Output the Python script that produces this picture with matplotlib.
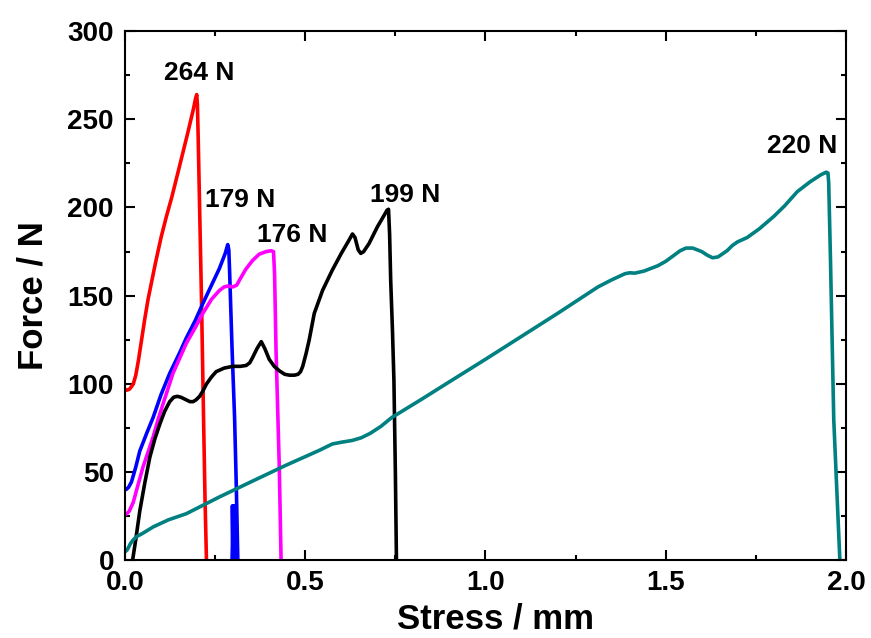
import matplotlib
matplotlib.use("Agg")
import matplotlib.pyplot as plt
from matplotlib.ticker import MultipleLocator

# --- données ---
red_x = [0.0, 0.005, 0.012, 0.018, 0.023, 0.03, 0.037, 0.046, 0.055, 0.064, 0.074, 0.085,
         0.1, 0.115, 0.13, 0.152, 0.175, 0.19, 0.196, 0.199, 0.201, 0.203, 0.207, 0.212,
         0.218, 0.222, 0.226]
red_y = [97, 96.5, 97, 98.5, 100, 105, 113, 125, 137, 148, 158, 169,
         183, 195, 206, 224, 243, 256, 262, 264, 258, 240, 200, 150,
         80, 35, 0]

blue_x = [0.0, 0.005, 0.01, 0.018, 0.03, 0.041, 0.06, 0.078, 0.1, 0.124, 0.15, 0.17, 0.195,
          0.216, 0.24, 0.262, 0.278, 0.285, 0.288, 0.29, 0.297, 0.304, 0.309, 0.313, 0.3,
          0.298, 0.298, 0.302, 0.303]
blue_y = [40, 40.5, 41.5, 44.5, 53, 62, 72, 81, 94, 106, 117, 126, 136,
          145.6, 156, 165.5, 174, 179, 176, 165, 120, 81, 40, 0, 0,
          31, 0, 31, 0]

mag_x = [0.0, 0.005, 0.012, 0.023, 0.035, 0.05, 0.065, 0.078, 0.092, 0.106, 0.133, 0.17,
         0.195, 0.216, 0.24, 0.262, 0.275, 0.285, 0.299, 0.31, 0.318, 0.335, 0.354, 0.372,
         0.391, 0.405, 0.412, 0.415, 0.419, 0.428, 0.433]
mag_y = [26, 26.5, 28, 33, 42, 53, 62, 70, 80, 89, 106, 123,
         132, 140, 148, 153, 155, 155.5, 155, 156, 159, 165, 170, 173.5,
         175, 175.5, 175, 162, 119, 53, 0]

blk_x = [0.021, 0.03, 0.041, 0.055, 0.069, 0.083, 0.097, 0.11, 0.124, 0.135, 0.145, 0.155,
         0.17, 0.18, 0.189, 0.197, 0.207, 0.216, 0.226, 0.24, 0.253, 0.275, 0.299, 0.32,
         0.336, 0.346, 0.354, 0.366, 0.378, 0.388, 0.4, 0.414, 0.428, 0.443, 0.456, 0.47,
         0.48, 0.487, 0.493, 0.502, 0.511, 0.525, 0.548, 0.575, 0.6, 0.62, 0.631, 0.638,
         0.647, 0.654, 0.662, 0.677, 0.7, 0.72, 0.727, 0.731, 0.734, 0.737, 0.742, 0.746,
         0.75, 0.753]
blk_y = [0, 12, 28, 44, 58.6, 69, 77.5, 84.5, 90, 92.5, 93, 92.5,
         91, 90, 90, 91, 93, 96, 100, 104, 107, 109, 110, 110,
         110.5, 112, 115, 120, 124, 120, 114, 110, 107.5, 105.5, 105, 105,
         105.5, 107, 110, 117, 125, 140, 153, 164.5, 174, 181, 185, 183,
         176, 174, 175, 179.6, 189, 196, 198.5, 199, 185, 159, 130, 102,
         50, 0]

teal_x = [0.0, 0.005, 0.01, 0.015, 0.022, 0.032, 0.05, 0.078, 0.12, 0.17, 0.262, 0.354,
          0.447, 0.539, 0.56, 0.575, 0.6, 0.63, 0.655, 0.68, 0.71, 0.74, 0.82, 0.898, 1.0,
          1.1, 1.2, 1.312, 1.35, 1.387, 1.4, 1.414, 1.44, 1.478, 1.5, 1.52, 1.54, 1.556,
          1.575, 1.6, 1.615, 1.63, 1.645, 1.67, 1.685, 1.699, 1.726, 1.76, 1.8, 1.83,
          1.865, 1.9, 1.93, 1.945, 1.95, 1.952, 1.957, 1.966, 1.983]
teal_y = [5, 5.7, 7.5, 9.5, 11.5, 13.5, 15.5, 19, 23, 26.5, 36, 45,
          54, 62.4, 64.5, 66, 67, 68, 69.5, 72, 76, 81, 91, 101, 114,
          127, 140, 155, 159, 162.5, 163, 162.8, 164, 167, 169.5, 172.5, 175.5, 177,
          177, 175, 173, 171.5, 172, 175.5, 178.5, 180.5, 183, 188, 195, 201,
          209, 214.5, 218.5, 220, 219.5, 214, 170, 80, 0]

peak_labels = ["264 N", "179 N", "176 N", "199 N", "220 N"]
peak_x = [0.205, 0.319, 0.463, 0.778, 1.879]
peak_y = [272, 200, 180.5, 203, 230.8]

fig = plt.figure(figsize=(8.71, 6.38), dpi=100)
ax = fig.add_axes([0.1435, 0.1215, 0.8278, 0.8299])

lw = 2.6
ax.plot(red_x, red_y, color="#ff0000", lw=lw)
ax.plot(blue_x, blue_y, color="#0000ff", lw=lw)
ax.plot(mag_x, mag_y, color="#ff00ff", lw=lw)
ax.plot(blk_x, blk_y, color="black", lw=lw)
ax.plot(teal_x, teal_y, color="#008080", lw=lw)

for lab, x, y in zip(peak_labels, peak_x, peak_y):
    ax.text(x, y, lab, ha="center", va="baseline", fontsize=19,
            fontweight="bold", family="Liberation Sans")

ax.set_xlim(0, 2.0)
ax.set_ylim(0, 300)
ax.xaxis.set_major_locator(MultipleLocator(0.5))
ax.xaxis.set_minor_locator(MultipleLocator(0.25))
ax.yaxis.set_major_locator(MultipleLocator(50))
ax.yaxis.set_minor_locator(MultipleLocator(25))
ax.xaxis.set_major_formatter(plt.FormatStrFormatter("%.1f"))

ax.tick_params(which="both", direction="in", top=True, right=True, width=1.5)
ax.tick_params(which="major", length=7)
ax.tick_params(which="minor", length=3.5)
ax.tick_params(axis="x", pad=7)
ax.tick_params(axis="y", pad=8)
for t in ax.get_xticklabels() + ax.get_yticklabels():
    t.set_fontsize(20)
    t.set_fontweight("bold")
    t.set_family("Liberation Sans")
for s in ax.spines.values():
    s.set_linewidth(1.5)

ax.set_xlabel("Stress / mm", fontsize=25, fontweight="bold", family="Liberation Sans")
ax.set_ylabel("Force / N", fontsize=25, fontweight="bold", family="Liberation Sans")
ax.xaxis.set_label_coords(0.514, -0.08)
ax.yaxis.set_label_coords(-0.105, 0.5)

fig.savefig("out.png", dpi=100)
